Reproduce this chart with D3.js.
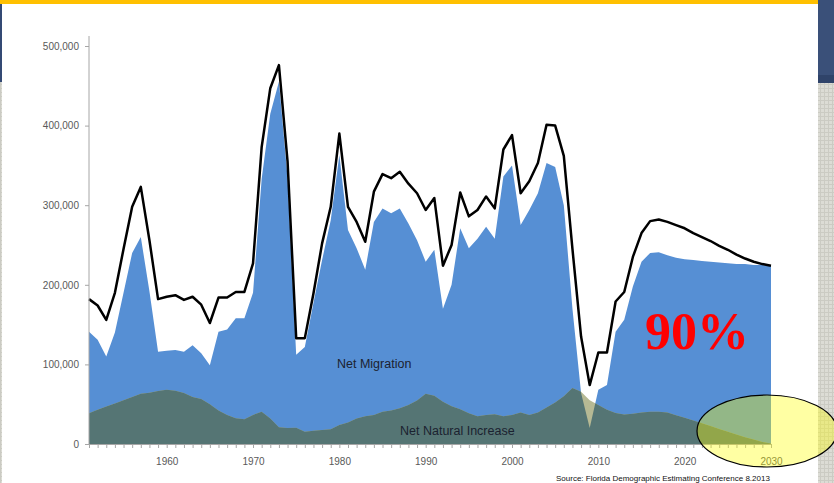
<!DOCTYPE html>
<html>
<head>
<meta charset="utf-8">
<script src="https://cdn.jsdelivr.net/npm/d3@7"></script>
<style>
  html, body { margin: 0; padding: 0; background: #ffffff; }
  svg { display: block; }
</style>
</head>
<body>
<svg id="chart" width="834" height="483"></svg>
<script>
// ---- DATA (thousands of persons, Florida annual population change) ----
const startYear = 1951;
const endYear = 2030;
const years = d3.range(startYear, endYear + 1);

const netMigration = [
  141, 131, 110, 140, 190, 240, 260, 192, 116, 117,
  118, 116, 124, 114, 99, 141, 144, 158, 158, 190,
  333, 415, 455, 335, 112, 122, 177, 231, 281, 363,
  269, 246, 219, 279, 296, 290, 296, 277, 256, 229,
  244, 170, 200, 271, 246, 258, 273, 258, 336, 350,
  275, 294, 315, 353, 348, 300, 170, 64, 20, 68,
  74, 141, 156, 198, 229, 240, 241, 237, 234, 232,
  231, 230, 229, 228, 227, 226, 226, 225, 225, 224
];

const netNaturalIncrease = [
  38.5, 43, 47, 51, 55, 59, 63, 64.5, 66.5, 68,
  67, 64, 59, 56.5, 50, 42, 36.5, 32.5, 31, 36.5,
  40.5, 32, 21, 20, 20.5, 15.5, 16.5, 17.5, 18.5, 24,
  27, 32, 35, 36.5, 40.5, 42, 45, 49, 54.5, 63,
  60.5, 53, 47.5, 43.5, 38.5, 35, 36.5, 37.5, 35, 36.5,
  39.5, 36.5, 39.5, 46, 52, 60, 70.5, 65.5, 55, 49,
  43, 39, 37, 38, 39.5, 40.5, 40.5, 39.5, 36, 33,
  29.5, 26, 22.5, 19, 15.5, 12, 8.5, 5.5, 2.5, 0.5
];

const totalGrowth = [
  182, 174, 156, 190, 245, 298, 323, 256, 182, 185,
  187, 181, 185, 175, 152, 184, 184, 191, 191, 227,
  373, 447, 476, 355, 133, 133, 189, 252, 298, 390,
  298, 279, 254, 317, 339, 334, 342, 327, 315, 294,
  309, 224, 250, 316, 286, 294, 311, 296, 370, 388,
  315, 330, 353, 401, 400, 362, 245, 135, 74, 115,
  115, 179, 191, 235, 265, 280, 282, 279, 275, 271,
  265, 260, 255, 249, 244, 238, 233, 229, 226, 224
];

const yTicks = [0, 100000, 200000, 300000, 400000, 500000];
const xLabelYears = [1960, 1970, 1980, 1990, 2000, 2010, 2020, 2030];
const seriesLabels = ["Net Migration", "Net Natural Increase"];
const highlightText = "90%";
const sourceText = "Source: Florida Demographic Estimating Conference 8.2013";

// ---- RENDER ----
const rows = years.map((yr, i) => ({
  year: yr,
  mig: netMigration[i] * 1000,
  nat: netNaturalIncrease[i] * 1000,
  tot: totalGrowth[i] * 1000
}));

const svg = d3.select("#chart");
const W = 834, H = 483;

// slide background pieces
const defs = svg.append("defs");
const pat = defs.append("pattern").attr("id", "tex").attr("width", 4).attr("height", 4)
  .attr("patternUnits", "userSpaceOnUse");
pat.append("rect").attr("width", 4).attr("height", 4).attr("fill", "#dcdcd5");
pat.append("rect").attr("width", 4).attr("height", 1).attr("fill", "#cbcbc3");
pat.append("rect").attr("width", 1).attr("height", 4).attr("fill", "#cbcbc3");

svg.append("rect").attr("x", 0).attr("y", 0).attr("width", W).attr("height", H).attr("fill", "#ffffff");
svg.append("rect").attr("x", 0).attr("y", 0).attr("width", 2).attr("height", 82).attr("fill", "#344a74");
svg.append("rect").attr("x", 0).attr("y", 82).attr("width", 2).attr("height", H - 82).attr("fill", "url(#tex)");
svg.append("rect").attr("x", 818).attr("y", 0).attr("width", W - 818).attr("height", 83).attr("fill", "#3a5079");
svg.append("rect").attr("x", 818).attr("y", 75).attr("width", W - 818).attr("height", 8).attr("fill", "#2f4369");
svg.append("rect").attr("x", 818).attr("y", 83).attr("width", W - 818).attr("height", H - 83).attr("fill", "url(#tex)");
svg.append("rect").attr("x", 0).attr("y", 0).attr("width", 818).attr("height", 4).attr("fill", "#ffc000");

const x = d3.scaleLinear().domain([startYear, endYear]).range([89, 771]);
const y = d3.scaleLinear().domain([0, 500000]).range([444, 46]);

const areaMig = d3.area().x(d => x(d.year)).y0(y(0)).y1(d => y(d.mig));
const areaNat = d3.area().x(d => x(d.year)).y0(y(0)).y1(d => y(d.nat));
const lineTot = d3.line().x(d => x(d.year)).y(d => y(d.tot));

defs.append("clipPath").attr("id", "migClip")
  .append("path").attr("d", areaMig(rows));

const plot = svg.append("g");
plot.append("path").attr("d", areaMig(rows)).attr("fill", "#568fd4");
plot.append("path").attr("d", areaNat(rows)).attr("fill", "#b6b994");
plot.append("path").attr("d", areaNat(rows)).attr("fill", "#557574").attr("clip-path", "url(#migClip)");

// axes
const axisColor = "#a6a6a6";
const textColor = "#595959";
const yAxis = svg.append("g").attr("transform", `translate(${x(startYear)},0)`)
  .call(d3.axisLeft(y).tickValues(yTicks).tickFormat(d3.format(",")).tickSize(4).tickPadding(6));
yAxis.select(".domain").remove();
yAxis.selectAll("line").attr("stroke", axisColor);
yAxis.selectAll("text").attr("fill", textColor).style("font-family", "'Liberation Sans', Arial, sans-serif").style("font-size", "10px");
svg.append("line").attr("x1", x(startYear)).attr("x2", x(startYear))
  .attr("y1", y(500000) - 10).attr("y2", y(0)).attr("stroke", axisColor).attr("stroke-width", 1);

const xAxis = svg.append("g").attr("transform", `translate(0,${y(0)})`)
  .call(d3.axisBottom(x).tickValues(years).tickSize(4).tickPadding(9.5)
    .tickFormat(d => xLabelYears.includes(d) ? String(d) : ""));
xAxis.select(".domain").attr("stroke", axisColor);
xAxis.selectAll("line").attr("stroke", axisColor);
xAxis.selectAll("text").attr("fill", textColor).style("font-family", "'Liberation Sans', Arial, sans-serif").style("font-size", "10px");

// total line
plot.append("path").attr("d", lineTot(rows)).attr("fill", "none")
  .attr("stroke", "#000000").attr("stroke-width", 2.5).attr("stroke-linejoin", "round");

// labels
svg.append("text").attr("x", 337).attr("y", 368).text(seriesLabels[0])
  .style("font-family", "'Liberation Sans', Arial, sans-serif").style("font-size", "12.5px").attr("fill", "#1b2230");
svg.append("text").attr("x", 400).attr("y", 435).text(seriesLabels[1])
  .style("font-family", "'Liberation Sans', Arial, sans-serif").style("font-size", "12.5px").attr("fill", "#1b2230");

svg.append("text").attr("x", 645).attr("y", 349).text(highlightText)
  .style("font-family", "'Liberation Serif', 'Times New Roman', serif").style("font-weight", "bold")
  .style("font-size", "52px").attr("fill", "#ff0000");

svg.append("text").attr("x", 556).attr("y", 480.5).text(sourceText)
  .style("font-family", "'Liberation Sans', Arial, sans-serif").style("font-size", "8px").attr("fill", "#111111");

// highlight ellipse
svg.append("ellipse").attr("cx", 767).attr("cy", 431).attr("rx", 70).attr("ry", 36)
  .attr("fill", "#ffff00").attr("fill-opacity", 0.36)
  .attr("stroke", "#000000").attr("stroke-width", 1.2);
</script>
</body>
</html>
